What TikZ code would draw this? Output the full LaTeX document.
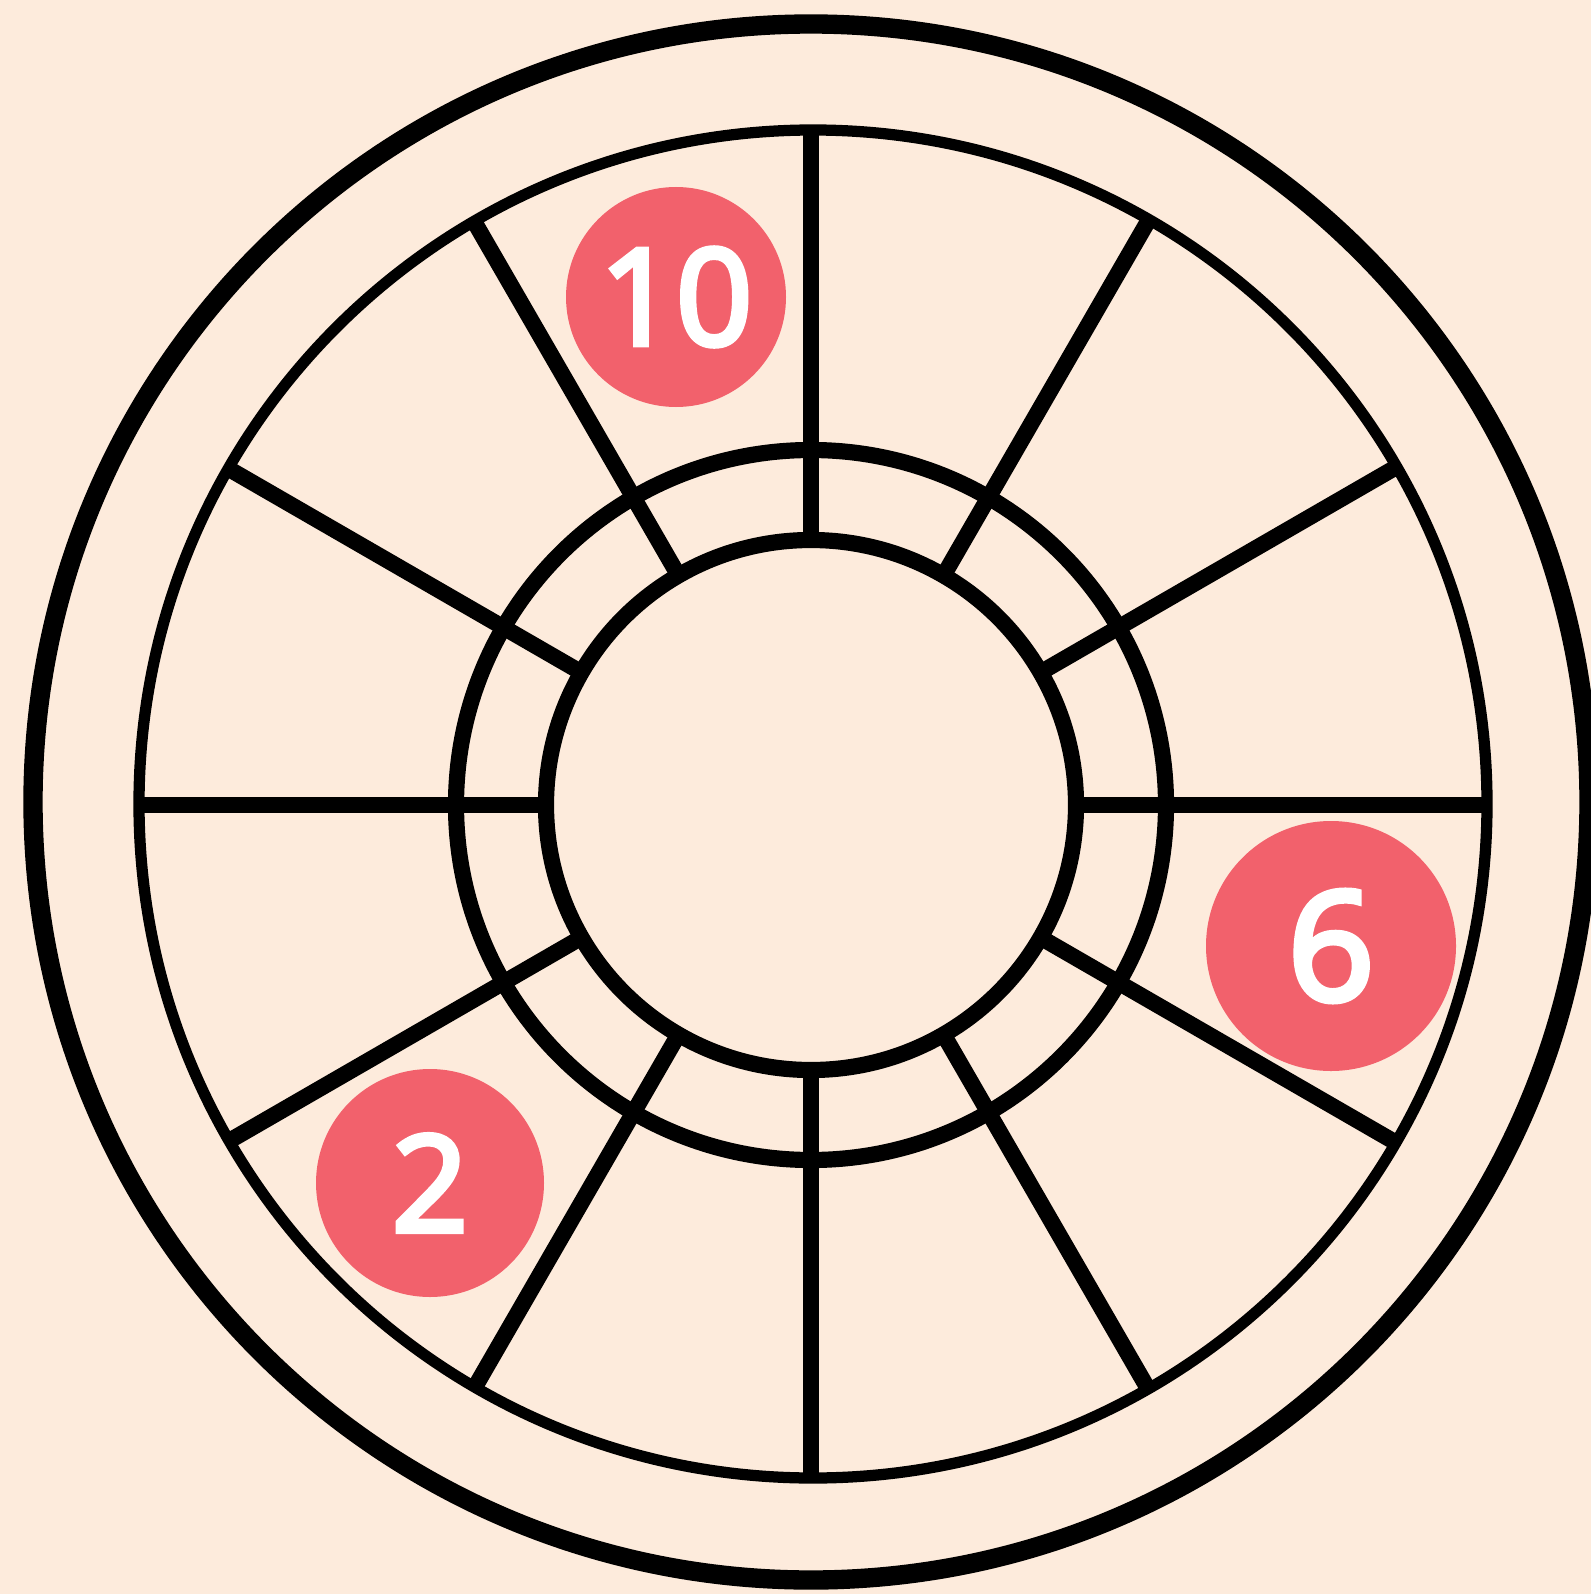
\documentclass[tikz,border=0pt]{standalone}
\usepackage{fontspec}
\setmainfont{Open Sans}
\newfontfamily\badgefont{Open Sans}[FakeBold=4]
\usetikzlibrary{calc}

\definecolor{paper}{RGB}{253,235,220}
\definecolor{badgered}{RGB}{242,97,108}

\tikzset{
  spoke/.style={line width=4.6pt},
  ring/.style={line width=4.6pt}
}

\newcommand{\badge}[6]{
  \fill[badgered] (#2,#3) circle (#4);
  \node[text=white, inner sep=0pt, font=\badgefont\fontsize{#5}{#5}\selectfont] (#1) at (#2,#3) {#6};
}

\begin{document}
\begin{tikzpicture}[x=0.01cm, y=-0.01cm]

  % --- Paper ---
  \fill[paper] (0,0) rectangle (1591,1594);
  \useasboundingbox (0,0) rectangle (1591,1594);
  \coordinate (hub) at (811,805);

  % --- Rims ---
  \draw[line width=5.5pt] (811,802) circle (778);
  \draw[line width=3.2pt] (813,804) circle (674);

  % --- Spokes ---
  \foreach \a in {0,30,...,330}
    \draw[spoke] ($(hub)+(\a:265)$) -- ($(hub)+(\a:674)$);

  % --- Hub rings ---
  \draw[ring] (hub) circle (355);
  \draw[ring] (hub) circle (265);

  % --- Badges ---
  \badge{ten}{676}{297}{110}{38}{10}
  \badge{six}{1331}{946}{125}{43}{6}
  \badge{two}{430}{1183}{114}{38}{2}

\end{tikzpicture}
\end{document}
